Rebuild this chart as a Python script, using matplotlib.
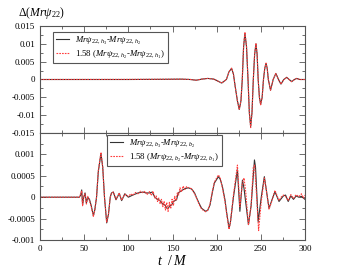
import matplotlib
matplotlib.use("Agg")
import matplotlib.pyplot as plt
from matplotlib.ticker import MultipleLocator, FixedLocator

# top panel: h-resolution differences
top_t = [0, 100, 140, 160, 170, 177, 183, 190, 197, 205.7, 211, 214, 217, 219, 221, 223.5, 225.6,
         227.5, 229, 230.5, 232, 233.8, 235.5, 237, 238.5, 240, 241.5, 243, 244.5, 245.8, 247,
         248.4, 249.8, 251.5, 253, 254.5, 255.9, 257.2, 258.5, 261, 264, 267, 270, 272.8, 276,
         279.3, 282, 285, 288, 290.6, 294, 300]
top_black = [0, 0, 0.00005, 0.0001, 0, -0.0002, 0.0001, 0.0003, 0.0001, -0.001, 0, 0.0022, 0.0031,
             0.0015, -0.002, -0.006, -0.0084, -0.006, 0, 0.0092, 0.013, 0.0092, 0, -0.0093,
             -0.0132, -0.0093, 0, 0.0071, 0.010, 0.0071, 0, -0.005, -0.007, -0.005, 0, 0.0032,
             0.0045, 0.0032, 0, -0.003, 0, 0.0017, 0, -0.0013, 0, 0.0006, 0, -0.0006, 0, 0.0003, 0, 0]
top_red = [0, 0.00003, 0.00008, 0.0001, 0.00002, -0.0002, 0.0001, 0.0003, 0.0001, -0.001, 0, 0.0022,
           0.0032, 0.0015, -0.002, -0.006, -0.0085, -0.006, 0, 0.0094, 0.0133, 0.0093, 0, -0.0094,
           -0.0135, -0.0094, 0, 0.0072, 0.0102, 0.0071, 0, -0.005, -0.0071, -0.005, 0, 0.0032,
           0.0046, 0.0032, 0, -0.003, 0, 0.0017, 0, -0.0013, 0, 0.0006, 0, -0.0006, 0, 0.0003, 0, 0]

# bottom panel: b-resolution differences
bot_t = [0, 44.5, 46, 47.2, 48.2, 49.5, 51, 52.5, 54, 56, 58, 60.4, 62, 64, 66, 69, 71, 73, 75.5,
         77.5, 79.5, 81, 83, 86, 89.7, 92.4, 96, 100, 105, 111, 116.6, 120, 124, 127, 130, 133,
         135.8, 138.5, 141.5, 143, 145, 147, 149, 151, 154.6, 156.5, 160, 164, 168, 171.7, 175,
         177.4, 180, 183, 187.6, 190, 192.5, 195, 197.4, 202, 204, 206.5, 209.4, 211.4, 214,
         215.5, 219, 223.5, 226.3, 229.2, 231, 236, 239, 242.8, 244, 247, 250.5, 254, 256, 259.3,
         262, 266, 270.6, 275.5, 278, 281, 284, 287, 290, 293, 296, 300]
bot_black = [0, 0, 0.00005, 0.00017, -0.00018, 0.0, 0.0001, -0.00014, 0.0, -0.00005, -0.0002,
             -0.00043, -0.0003, 0.0, 0.0006, 0.00102, 0.0007, 0.0, -0.0006, -0.0004, 0.0, 0.0001,
             0.00012, -0.00006, 0.00009, -0.00008, 0.00008, 0.0, 0.00005, 0.0001, 0.00012, 0.0001,
             0.0001, 0.00012, 0.0, -0.00005, -0.00008, -0.00015, -0.00018, -0.00025, -0.00026,
             -0.0002, -0.00018, -0.0001, -0.00006, 0.0001, 0.00015, 0.0002, 0.00022, 0.00019,
             0.0001, -0.00002, -0.00014, -0.00026, -0.00033, -0.0003, -0.00018, 0.0001, 0.00033,
             0.00048, 0.00042, 0.00025, -0.00006, -0.00037, -0.00072, -0.0006, 0.0, 0.00064,
             -0.00033, 0.0004, 0.0002, -0.00064, -0.0002, 0.00087, 0.0007, -0.00057, 0.0, 0.00048,
             0.0002, -0.00026, -0.0001, 0.00013, -0.0001, 0.00003, 0.00005, -0.0001, 0.00003,
             -0.00005, 0.00003, 0.0, 0.00002, -0.00005]

bot_t_red = [0, 44.5, 46, 47.2, 48.2, 49.5, 51, 52.5, 54, 56, 58, 60.4, 62, 64, 66, 69, 71, 73,
             75.5, 77.5, 79.5, 81, 83, 86, 89.7, 92.4, 96, 100, 103, 105, 108, 111, 114, 116.6,
             119, 121, 124, 126, 128, 130, 131.5, 133, 134.5, 136, 137.5, 139, 140.5, 142, 143.5,
             145, 146.5, 148, 149.5, 151, 152.5, 154, 155.5, 157, 158.5, 160, 162, 164, 166, 168,
             171.7, 175, 177.4, 180, 183, 187.6, 190, 192.5, 195, 197.4, 200, 202, 204, 206.5,
             209.4, 211.4, 214, 215.5, 219, 223.5, 226.3, 229.2, 231, 233, 236, 239, 241.5, 243,
             245, 247.5, 250.5, 254, 256, 259.3, 262, 266, 270.6, 273, 275.5, 278, 281, 284, 287,
             290, 293, 296, 298, 300]
bot_red = [0, 0, 0.00008, 0.00015, -0.0002, 0.00002, 0.00008, -0.00016, 0.00002, -0.00008,
           -0.00022, -0.00045, -0.0003, 0.0, 0.00062, 0.00105, 0.0007, 0.0, -0.00058, -0.0004, 0.0,
           0.0001, 0.00012, -0.00005, 0.0001, -0.00007, 0.00007, 0.00002, 0.00008, 0.00004,
           0.00011, 0.00008, 0.00014, 0.0001, 0.00014, 0.00006, 0.00013, 0.00004, 0.00014, -0.00002,
           0.00003, -0.0001, -0.00002, -0.00016, -0.00005, -0.00022, -0.0001, -0.0003, -0.00012,
           -0.00033, -0.00012, -0.00027, -0.00005, -0.0002, 0.00002, -0.00008, 0.0001, 0.00005,
           0.00022, 0.00012, 0.00026, 0.00018, 0.00025, 0.00022, 0.0002, 0.00008, -0.00003,
           -0.00016, -0.00028, -0.00034, -0.0003, -0.00016, 0.00012, 0.00035, 0.00045, 0.00052,
           0.00045, 0.00022, -0.0001, -0.0004, -0.00075, -0.0006, 0.00005, 0.00075, -0.00022,
           0.00033, 0.00045, 0.0001, -0.00065, -0.0002, 0.0007, 0.00075, 0.0001, -0.00078, -0.0001,
           0.00045, 0.0002, -0.00028, -0.00012, 0.00016, -0.00008, 0.0, 0.00005, 0.00002, -0.00008,
           0.00006, -0.00003, 0.00006, 0.00001, 0.00008, -0.00002, 0.00005]

top_ticks = [0.015, 0.01, 0.005, 0, -0.005, -0.01, -0.015]
top_ticklabels = ["0.015", "0.01", "0.005", "0", "-0.005", "-0.01", "-0.015"]
bot_ticks = [0.001, 0.0005, 0, -0.0005, -0.001]
bot_ticklabels = ["0.001", "0.0005", "0", "-0.0005", "-0.001"]
x_ticks = [0, 50, 100, 150, 200, 250, 300]

plt.rcParams["font.family"] = "Liberation Serif"
plt.rcParams["mathtext.fontset"] = "custom"
plt.rcParams["mathtext.rm"] = "Liberation Serif"
plt.rcParams["mathtext.it"] = "Liberation Serif:italic"
plt.rcParams["axes.unicode_minus"] = False

fig = plt.figure(figsize=(3.45, 2.67), dpi=100)
ax1 = fig.add_axes([0.116, 0.502, 0.768, 0.4005])
ax2 = fig.add_axes([0.116, 0.101, 0.768, 0.401])

red = "#ff3b3b"
ax1.plot(top_t, top_black, color="#333333", lw=0.8,
         label=r"$Mr\psi_{22,\,h_3}$-$Mr\psi_{22,\,h_2}$")
ax1.plot(top_t, top_red, color=red, lw=0.8, ls=(0, (1.5, 1)),
         label=r"1.58 ($Mr\psi_{22,\,h_2}$-$Mr\psi_{22,\,h_1}$)")
ax2.plot(bot_t, bot_black, color="#333333", lw=0.8,
         label=r"$Mr\psi_{22,\,b_3}$-$Mr\psi_{22,\,b_2}$")
ax2.plot(bot_t_red, bot_red, color=red, lw=0.8, ls=(0, (1.5, 1)),
         label=r"1.58 ($Mr\psi_{22,\,b_2}$-$Mr\psi_{22,\,b_1}$)")

ax1.set_ylim(-0.015, 0.015)
ax1.set_yticks(top_ticks)
ax1.set_yticklabels(top_ticklabels)
ax1.yaxis.set_minor_locator(MultipleLocator(0.0025))
ax2.set_ylim(-0.001, 0.0015)
ax2.yaxis.set_major_locator(FixedLocator(bot_ticks))
ax2.set_yticklabels(bot_ticklabels)
ax2.yaxis.set_minor_locator(MultipleLocator(0.00025))

for ax in (ax1, ax2):
    ax.set_xlim(0, 300)
    ax.set_xticks(x_ticks)
    ax.xaxis.set_minor_locator(MultipleLocator(25))
    ax.tick_params(which="both", direction="in", top=True, right=True,
                   labelsize=6.5, color="#555555", width=0.6)
    ax.tick_params(which="major", length=4)
    ax.tick_params(which="minor", length=2)
    for s in ax.spines.values():
        s.set_color("#555555")
        s.set_linewidth(0.8)
ax1.tick_params(labelbottom=False)

leg_kw = dict(loc="upper left", fontsize=6.3, fancybox=False, framealpha=1,
              edgecolor="#555555", handlelength=1.5, handletextpad=0.7,
              borderaxespad=0, borderpad=0.35, labelspacing=0.25)
l1 = ax1.legend(bbox_to_anchor=(0.049, 0.947), **leg_kw)
l2 = ax2.legend(bbox_to_anchor=(0.252, 0.984), **leg_kw)
for l in (l1, l2):
    l.get_frame().set_linewidth(0.8)

fig.text(0.052, 0.94, r"$\Delta(Mr\psi_{22})$", fontsize=8.5)
ax2.set_xlabel(r"$t\ \ /\,M$", fontsize=10, labelpad=1)

fig.savefig("out.png", dpi=100)
